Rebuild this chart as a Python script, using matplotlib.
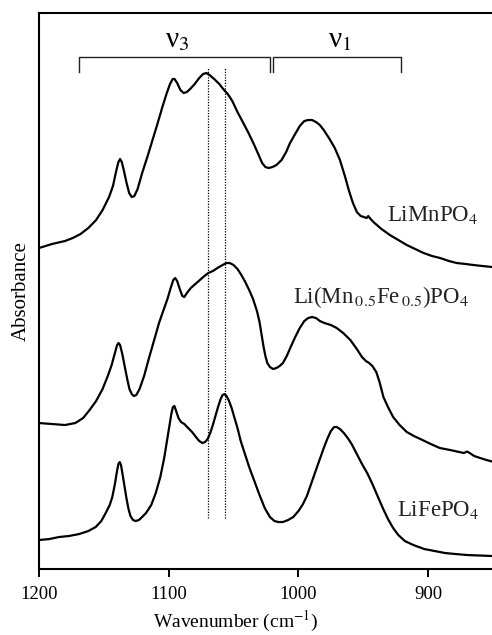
"""FTIR spectra of LiMnPO4, Li(Mn0.5Fe0.5)PO4 and LiFePO4 (PO4 stretching region)."""

import matplotlib
matplotlib.use("Agg")
import matplotlib.pyplot as plt

plt.rcParams["font.family"] = ["Liberation Serif", "DejaVu Serif"]
plt.rcParams["mathtext.fontset"] = "stix"

# spectra, offset vertically (arbitrary absorbance units)
wn_mn = [1200, 1190, 1180, 1174, 1168, 1162, 1156, 1151, 1146, 1143, 1140.5, 1138.8,
         1137.5, 1136.2, 1134.5, 1132.5, 1130.5, 1128.5, 1126.5, 1124, 1120.5, 1116.5,
         1112.5, 1108.5, 1104.9, 1101.5, 1099, 1097, 1095.5, 1093.5, 1091, 1088.5, 1086,
         1083.5, 1080, 1076.5, 1073.5, 1071, 1068.5, 1065, 1061, 1058, 1054.5, 1051, 1047,
         1042.5, 1038.5, 1034.8, 1031, 1028, 1025.5, 1023, 1020, 1017, 1013, 1009.5,
         1006.5, 1003, 999, 995.5, 992.5, 989.5, 986.5, 983.5, 980.5, 976, 972, 968, 964,
         961, 958, 955, 952, 949.5, 947.5, 946.2, 945, 942.2, 936, 929.5, 923, 916.5, 910,
         903.5, 897, 890.8, 884, 878, 871, 865, 858, 850.7]
abs_mn = [3.21, 3.25, 3.28, 3.31, 3.35, 3.41, 3.49, 3.59, 3.72, 3.83, 3.98, 4.07,
          4.10, 4.07, 3.98, 3.86, 3.76, 3.72, 3.73, 3.80, 3.96, 4.12,
          4.29, 4.46, 4.62, 4.76, 4.85, 4.90, 4.90, 4.86, 4.79, 4.76, 4.77,
          4.80, 4.85, 4.91, 4.95, 4.96, 4.94, 4.90, 4.85, 4.80, 4.75, 4.68, 4.57,
          4.46, 4.36, 4.26, 4.15, 4.06, 4.02, 4.01, 4.02, 4.04, 4.09, 4.17,
          4.26, 4.34, 4.43, 4.48, 4.49, 4.49, 4.47, 4.44, 4.39, 4.30, 4.21, 4.09, 3.92,
          3.78, 3.66, 3.57, 3.53, 3.52, 3.51, 3.53, 3.51, 3.47, 3.40, 3.34, 3.29, 3.24, 3.20,
          3.16, 3.13, 3.11, 3.08, 3.06, 3.05, 3.04, 3.03, 3.02]

wn_mnfe = [1200, 1190, 1180, 1172, 1166, 1161, 1156, 1151, 1147, 1144, 1141.5, 1139.8,
           1138.7, 1137.5, 1135.8, 1134, 1132, 1130.3, 1128.5, 1127, 1125, 1122.5, 1119,
           1115, 1111, 1107.5, 1104, 1101, 1098.5, 1096.5, 1095, 1093.5, 1091.5, 1089.5,
           1088, 1086, 1083, 1079.5, 1076, 1072.5, 1069.5, 1066, 1062.5, 1058.5, 1055.5,
           1053, 1050, 1047, 1044, 1041, 1038, 1035, 1032, 1030, 1028.5, 1027, 1025.5, 1024,
           1022, 1019.5, 1017, 1014.5, 1012, 1009, 1006, 1002.5, 999, 995.5, 992.5, 989.5,
           986.5, 983.5, 980, 975, 970.5, 965.5, 960, 955, 951, 948, 945.5, 943, 940, 937.5,
           934.5, 931, 927, 922, 916.5, 911, 906, 898, 891, 883, 876, 872.5, 870, 868, 864.5,
           859.9, 855, 850.7]
abs_mnfe = [1.46, 1.45, 1.44, 1.46, 1.51, 1.59, 1.68, 1.80, 1.93, 2.04, 2.16, 2.24,
            2.26, 2.24, 2.15, 2.03, 1.90, 1.80, 1.75, 1.73, 1.74, 1.80, 1.93,
            2.12, 2.30, 2.46, 2.59, 2.70, 2.81, 2.89, 2.91, 2.88, 2.80, 2.73,
            2.72, 2.76, 2.81, 2.85, 2.89, 2.93, 2.96, 2.98, 3.01, 3.04, 3.06,
            3.06, 3.04, 3.00, 2.94, 2.87, 2.79, 2.70, 2.58, 2.47, 2.35, 2.23, 2.13, 2.06,
            2.02, 2.00, 2.01, 2.03, 2.06, 2.13, 2.22, 2.32, 2.41, 2.48, 2.51, 2.52,
            2.51, 2.48, 2.46, 2.44, 2.41, 2.36, 2.29, 2.20, 2.12, 2.08, 2.06, 2.03, 1.97, 1.87,
            1.72, 1.62, 1.52, 1.44, 1.37, 1.33, 1.30, 1.25, 1.21, 1.19, 1.17, 1.16, 1.175, 1.16, 1.13,
            1.11, 1.09, 1.075]

wn_fe = [1200, 1192, 1184.6, 1177, 1169, 1162, 1156.3, 1152, 1148.6, 1145.5, 1143.5, 1141.5,
         1140, 1138.8, 1137.8, 1136.8, 1135.5, 1134, 1132.5, 1131, 1129.5, 1127.5, 1125.5,
         1123, 1120.5, 1117.5, 1113.5, 1110, 1106.5, 1103.5, 1101.5, 1099.5, 1098, 1096.8,
         1095.6, 1094.3, 1092.5, 1090.5, 1088, 1085, 1082, 1079, 1076.5, 1074, 1072, 1070,
         1068, 1066, 1064, 1062, 1060, 1058.5, 1057, 1055.5, 1053.5, 1051.5, 1049.5, 1047,
         1044.5, 1041.5, 1038, 1034, 1030, 1026, 1022, 1018.5, 1015.5, 1012, 1008, 1004, 1000,
         996.5, 993.5, 990, 986.5, 983.5, 980.5, 977.5, 975, 972.5, 970.5, 968, 965, 962, 959,
         955, 951, 947, 943, 939, 935, 931, 927, 923, 918, 911.4, 903, 895, 887, 879, 870,
         860, 850.7]
abs_fe = [0.29, 0.30, 0.32, 0.33, 0.35, 0.38, 0.42, 0.48, 0.56, 0.64, 0.72, 0.85,
          0.97, 1.05, 1.07, 1.04, 0.94, 0.82, 0.70, 0.60, 0.53, 0.49, 0.48,
          0.49, 0.52, 0.56, 0.64, 0.76, 0.92, 1.11, 1.27, 1.43, 1.55, 1.62,
          1.63, 1.58, 1.51, 1.47, 1.45, 1.41, 1.37, 1.32, 1.28, 1.26, 1.27, 1.30,
          1.36, 1.44, 1.53, 1.62, 1.70, 1.74, 1.75, 1.73, 1.68, 1.61, 1.52, 1.41,
          1.28, 1.16, 1.02, 0.88, 0.74, 0.61, 0.52, 0.48, 0.47, 0.47, 0.49, 0.52, 0.58,
          0.65, 0.73, 0.86, 0.99, 1.10, 1.21, 1.31, 1.38, 1.42, 1.42, 1.40, 1.36, 1.31, 1.25,
          1.15, 1.05, 0.96, 0.85, 0.73, 0.61, 0.50, 0.41, 0.34, 0.28, 0.24, 0.20, 0.18, 0.16, 0.15, 0.14,
          0.135, 0.13]

# annotations
marker_lines = [1069.5, 1057.0]
marker_range = (0.51, 5.01)
nu3_range = (1169.0, 1022.0)
nu1_range = (1019.4, 921.0)
bracket_y, bracket_drop = 5.12, 0.15

labels = ["LiMnPO$_4$", r"Li(Mn$_{\,0.5}$Fe$_{\,0.5}$)PO$_4$", "LiFePO$_4$"]
label_pos = [(931.5, 3.54), (1004.0, 2.72), (924.0, 0.59)]

fig = plt.figure(figsize=(4.92, 6.35), dpi=100)
ax = fig.add_axes([0.0793, 0.1039, 0.9228, 0.8756])

for wn, ab in [(wn_mn, abs_mn), (wn_mnfe, abs_mnfe), (wn_fe, abs_fe)]:
    ax.plot(wn, ab, color="black", linewidth=1.6, solid_joinstyle="round")

for xv in marker_lines:
    ax.plot([xv, xv], marker_range, color="black", linewidth=0.9, linestyle=(0, (1, 1.2)))

for (x0, x1) in [nu3_range, nu1_range]:
    ax.plot([x0, x0, x1, x1], [bracket_y - bracket_drop, bracket_y, bracket_y, bracket_y - bracket_drop],
            color="#222222", linewidth=1.0)

ax.text(1093.6, 5.29, "ν$_3$", ha="center", va="center", fontsize=21)
ax.text(967.9, 5.29, "ν$_1$", ha="center", va="center", fontsize=21)

for lab, (x, y) in zip(labels, label_pos):
    ax.text(x, y, lab, ha="left", va="center", fontsize=16.5, color="#222222")

ax.set_xlim(1200, 850)
ax.set_ylim(0, 5.56)
ax.set_xticks([1200, 1100, 1000, 900])
ax.set_yticks([])
ax.tick_params(axis="x", direction="out", length=6, width=1.4, labelsize=13.5, pad=6)
for s in ax.spines.values():
    s.set_linewidth(1.5)
ax.set_xlabel("Wavenumber (cm$^{-1}$)", fontsize=14)
ax.xaxis.set_label_coords(0.434, -0.072)
ax.set_ylabel("Absorbance", fontsize=15, labelpad=6)

fig.savefig("out.png", dpi=100)
